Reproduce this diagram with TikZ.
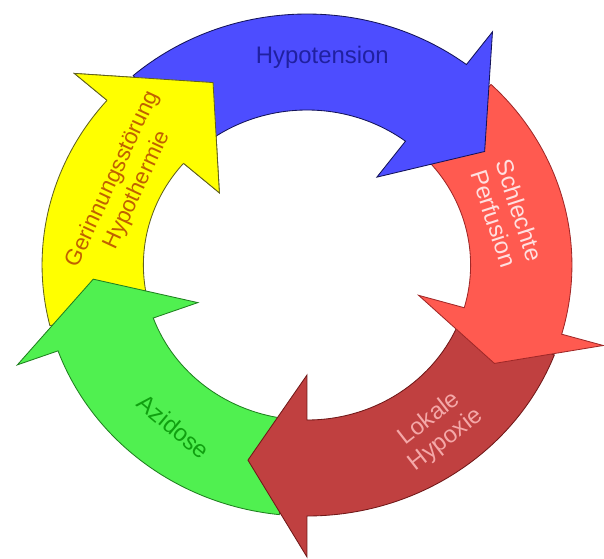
\documentclass[tikz,border=0pt]{standalone}
\usepackage{fontspec}
\setmainfont{Liberation Sans}
\usepackage{tikz}
\definecolor{hypoblue}{HTML}{4D4DFF}
\definecolor{hypoline}{HTML}{14145A}
\definecolor{hypotext}{HTML}{2020A0}
\definecolor{perfred}{HTML}{FF5A50}
\definecolor{perfline}{HTML}{A02828}
\definecolor{perftext}{HTML}{FFE0E0}
\definecolor{hypoxred}{HTML}{C04040}
\definecolor{hypoxline}{HTML}{701818}
\definecolor{hypoxtext}{HTML}{F4A8A8}
\definecolor{azigreen}{HTML}{50F050}
\definecolor{aziline}{HTML}{208020}
\definecolor{azitext}{HTML}{10A010}
\definecolor{geryellow}{HTML}{FFFF00}
\definecolor{gerline}{HTML}{606020}
\definecolor{gertext}{HTML}{C06000}
\tikzset{
  ringpart/.style = {line width=0.6pt, line join=miter},
  ringlabel/.style = {font=\fontsize{17}{19}\selectfont,
                      align=center, inner sep=0pt}
}
% tail angle, back angle, tip angle, fill, line
\newcommand{\ringarrow}[5]{%
  \draw [ringpart, fill=#4, draw=#5] (#1:251)
    arc[start angle=#1, end angle=#2, radius=251]
    -- (#2:292) -- (#3:203) -- (#2:110) -- (#2:155)
    arc[start angle=#2, end angle=#1, radius=155] -- cycle;}

\begin{document}
\begin{tikzpicture}[scale=0.025]
  \useasboundingbox (-307,-293) rectangle (297,265);
  \begin{scope}[xscale=1.056]
    \ringarrow{194}{139}{116}{geryellow}{gerline}
    \ringarrow{-96}{-160}{-176}{azigreen}{aziline}
    \ringarrow{-21}{-90}{-106}{hypoxred}{hypoxline}
    \ringarrow{46}{-16}{-29}{perfred}{perfline}
    \ringarrow{131}{53}{34}{hypoblue}{hypoline}
    % yellow head once more, over the blue tail
    \fill [geryellow] (139:155) -- (139:110) -- (116:203) -- (139:292) -- (139:251) -- cycle;
    \draw [ringpart, draw=gerline] (139:251) -- (139:292) -- (116:203) -- (139:110) -- (139:155);

    \node (hypo) [ringlabel, text=hypotext] at (86:208) {Hypotension};
    \node (perf) [ringlabel, text=perftext, rotate=-72] at (15:196) {Schlechte\\Perfusion};
    \node (hypox) [ringlabel, text=hypoxtext, rotate=38] at (-53:206) {Lokale\\Hypoxie};
    \node (azi) [ringlabel, text=azitext, rotate=-40] at (-128:205) {Azidose};
    \node (ger) [ringlabel, text=gertext, rotate=65, font=\fontsize{16}{19}\selectfont] at (155:190) {Gerinnungsstörung\\Hypothermie};
  \end{scope}
\end{tikzpicture}
\end{document}
